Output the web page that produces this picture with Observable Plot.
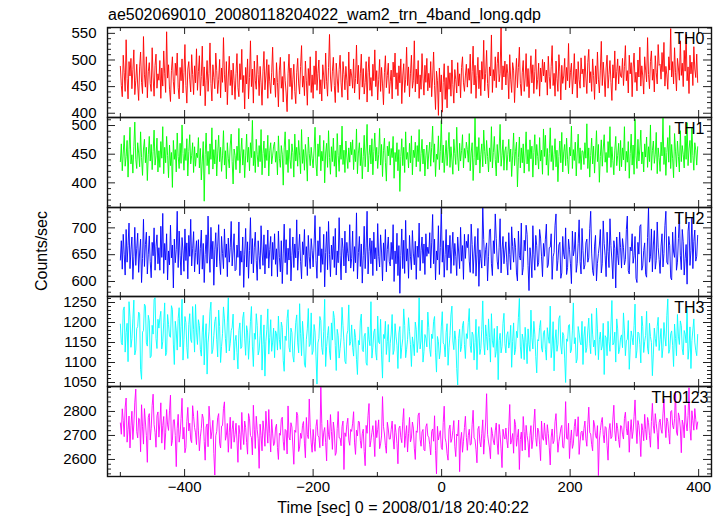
<!DOCTYPE html>
<html><head><meta charset="utf-8">
<script src="https://cdn.jsdelivr.net/npm/d3@7"></script>
<script src="https://cdn.jsdelivr.net/npm/@observablehq/plot@0.6"></script>
<style>
body{margin:0;background:#fff;}
#chart{position:relative;width:724px;height:516px;font-family:"Liberation Sans",Arial,Helvetica,sans-serif;}
</style></head><body><div id="chart"></div>
<script>
// time bins: start and width (sec)
const t0 = -500, dt = 1.5;
const TH0 = [
488,452,431,509,476,441,538,465,427,497,470,503,446,482,519,435,461,492,453,424,487,515,458,437,544,472,449,506,429,478,495,456,441,523,468,432,490,511,447,474,
462,499,428,485,451,517,474,439,553,466,491,445,422,480,506,459,436,494,471,513,448,427,486,461,502,438,476,529,452,419,483,497,464,440,510,473,435,489,457,521,
443,478,508,433,469,526,451,487,414,462,499,441,475,532,456,423,491,467,446,513,480,437,463,501,429,485,458,542,472,440,497,416,468,507,452,481,434,494,461,426,
475,512,448,431,493,463,520,439,471,408,486,455,502,427,467,536,450,483,419,498,462,445,509,473,433,488,457,415,479,516,444,470,501,428,491,459,437,476,524,453,
466,430,495,458,412,481,505,447,469,421,497,462,438,403,474,511,450,485,426,464,492,441,418,477,503,455,436,488,527,449,470,433,498,461,415,484,452,506,439,472,
428,489,454,517,443,475,500,436,463,423,491,470,446,513,459,432,486,548,468,441,479,505,452,420,494,466,439,482,509,457,430,497,473,444,488,462,425,515,451,483,
470,447,502,438,465,528,455,490,426,474,511,449,484,436,458,497,421,476,506,443,467,432,492,461,519,450,480,425,463,501,441,486,455,416,477,508,448,471,494,437,
459,481,427,496,468,513,445,476,433,489,457,502,418,470,493,439,464,524,452,487,431,474,509,447,461,536,440,483,455,499,428,472,445,512,466,434,490,458,503,442,
475,448,497,431,468,515,452,407,479,461,396,485,440,472,402,458,493,426,467,410,489,445,476,432,500,454,419,482,463,438,495,451,474,429,486,506,457,441,470,492,
449,484,462,511,437,478,526,453,490,428,471,505,446,481,433,497,464,537,442,475,518,456,429,487,470,547,439,482,461,506,448,493,515,459,475,565,444,489,468,498,
453,492,474,427,510,464,439,495,481,420,468,503,448,486,524,456,433,477,499,441,466,512,450,484,429,472,508,457,491,437,478,520,445,463,494,432,485,459,501,470,
496,458,481,434,507,469,446,488,527,452,475,432,498,465,441,510,479,425,490,456,470,503,444,486,461,531,448,477,494,436,468,512,455,483,429,497,463,447,504,474,
483,449,508,466,437,495,520,457,478,441,502,471,426,489,455,515,464,438,481,535,452,496,468,431,485,509,447,473,499,458,424,491,466,517,443,478,502,455,489,470,
467,503,452,488,527,461,480,438,509,474,495,431,485,513,458,477,442,500,468,524,451,489,470,436,506,481,459,542,473,446,497,517,462,483,440,508,476,455,529,490,
492,464,514,478,533,451,488,472,445,506,481,559,468,497,455,523,476,442,503,485,462,536,471,494,450,518,479,548,461,487,437,509,474,496,452,525,483,467,511,458];
const TH1 = [
437,468,421,452,483,429,446,474,410,458,497,433,449,417,463,506,441,425,470,452,428,489,444,413,459,476,435,462,404,449,481,438,467,423,455,492,431,447,478,419,
456,427,472,443,498,416,462,435,481,448,409,466,430,453,392,474,441,458,419,487,446,425,469,434,501,451,422,460,439,477,412,455,484,433,448,470,418,463,429,452,
444,479,426,460,405,438,472,368,449,487,430,455,415,468,441,496,424,458,433,475,412,452,483,437,462,420,447,491,431,456,407,470,443,426,466,485,437,398,459,448,
423,464,439,495,417,452,478,431,458,409,447,485,436,462,421,470,444,509,430,455,418,476,449,428,465,437,493,414,451,473,426,460,439,483,412,456,470,433,447,464,
471,436,455,414,482,443,427,465,450,396,461,489,432,457,418,476,441,425,468,453,410,485,438,462,429,474,447,416,493,434,458,422,467,445,403,480,451,430,462,443,
426,459,497,433,412,468,446,483,421,455,438,474,400,452,469,427,491,444,415,463,437,478,429,456,410,486,448,420,466,441,499,432,457,418,473,445,425,461,436,471,
449,475,423,458,437,494,416,452,470,430,461,407,446,483,428,459,502,419,448,466,433,477,414,455,487,438,462,425,450,495,431,467,411,456,478,436,403,464,447,472,
431,460,444,481,408,453,437,470,421,458,385,446,477,430,462,418,489,441,453,426,469,435,482,414,457,444,471,428,465,437,493,420,451,476,433,459,412,447,466,424,
452,471,429,462,499,436,468,411,450,441,482,423,455,509,435,466,418,447,474,430,458,488,427,463,440,415,476,451,432,497,445,421,469,438,456,484,426,460,443,471,
458,436,486,421,452,470,404,444,515,431,463,440,479,417,450,468,428,492,455,433,474,446,419,461,437,498,426,453,481,441,412,467,435,459,502,429,448,475,422,456,
463,422,450,476,437,459,411,447,487,430,455,471,393,444,480,426,461,435,468,417,452,489,433,458,420,475,442,464,410,453,484,431,467,446,424,479,438,457,415,494,
446,483,431,460,413,451,496,437,465,422,449,477,428,457,402,446,473,435,488,419,454,467,430,478,441,416,462,447,499,425,458,439,471,412,452,485,434,461,423,456,
455,432,470,443,503,425,461,410,448,478,433,464,417,452,491,437,467,401,446,475,429,459,484,436,453,418,472,444,498,427,463,439,414,457,481,430,448,469,421,474,
428,461,440,498,421,455,436,472,408,451,485,431,466,415,511,447,425,476,438,459,492,433,454,419,468,445,480,427,463,437,501,422,456,473,434,450,488,416,461,444,
420,471,447,513,432,462,413,453,479,436,500,425,467,442,409,486,454,428,473,446,419,491,437,465,450,426,482,441,505,430,459,474,435,496,448,422,470,457,431,463];
const TH2 = [
640,676,623,688,651,612,697,636,667,709,624,659,683,604,646,701,630,662,690,617,655,679,598,643,716,628,669,692,614,651,685,637,607,673,648,700,621,665,687,633,
663,621,703,645,727,615,671,640,689,603,657,631,705,644,668,588,679,635,660,731,626,694,649,612,682,657,619,698,639,672,605,686,647,716,629,661,693,618,654,676,
632,678,614,662,696,623,671,598,650,687,634,722,655,617,701,642,675,593,659,691,627,666,706,638,613,684,652,624,698,645,670,609,681,636,663,712,629,657,689,620,
622,668,645,711,611,657,636,683,589,651,699,627,674,606,658,719,633,680,616,664,692,639,602,676,648,623,704,655,630,687,614,669,643,696,625,660,684,610,673,641,
689,632,661,609,694,645,618,676,596,653,707,635,678,613,662,640,699,601,649,683,626,670,644,715,621,658,688,637,605,674,650,697,628,665,611,686,646,624,680,658,
627,670,723,639,606,676,648,702,617,661,632,688,590,654,693,622,712,650,609,668,641,684,626,699,612,657,635,719,648,603,681,662,629,694,616,673,652,638,706,625,
643,694,619,665,635,728,605,654,684,628,670,597,648,703,624,664,731,614,656,681,633,676,611,692,642,663,620,708,647,627,687,655,601,672,639,697,618,660,683,637,
629,673,641,706,600,657,633,690,611,667,578,649,698,624,677,615,714,638,661,606,686,646,622,695,653,631,675,604,666,645,709,620,658,683,634,670,613,689,647,664,
652,691,625,672,725,633,679,603,657,640,704,613,663,740,636,676,608,650,697,621,668,644,686,615,659,692,630,671,647,611,683,655,624,701,638,667,604,688,643,675,
663,688,638,617,707,669,615,653,684,610,651,699,591,659,643,625,742,678,629,660,672,601,647,696,698,633,611,676,652,726,680,638,623,664,717,616,659,684,633,657,
674,635,612,691,650,622,702,665,636,681,664,616,601,694,648,640,709,612,626,677,657,705,688,630,583,663,642,607,704,651,621,686,667,628,635,697,681,646,609,671,
647,679,707,626,631,663,664,689,604,646,654,705,726,620,639,668,673,606,616,684,651,642,700,613,626,679,660,633,596,694,648,659,692,617,634,671,715,637,614,699,
658,623,631,672,679,636,644,699,731,653,620,611,666,686,601,634,652,668,697,616,633,713,671,648,609,692,656,626,717,667,640,605,676,662,588,683,649,631,692,663,
625,680,663,631,641,697,722,620,614,664,657,689,634,648,684,606,598,673,651,703,706,621,629,658,672,613,608,682,738,636,646,698,618,668,695,623,639,711,664,641,
615,666,689,627,652,704,731,636,632,684,667,607,603,692,655,645,702,621,636,680,725,648,622,697,674,612,643,669,595,694,711,630,658,720,624,675,696,638,647,686];
const TH3 = [
1196,1150,1144,1231,1239,1126,1175,1198,1102,1252,1214,1138,1160,1209,1256,1119,1131,1185,1190,1226,1221,1082,1058,1176,1180,1246,1241,1149,1141,1218,1204,1112,1116,1193,1171,1257,1262,1160,1135,1208,
1186,1212,1228,1134,1152,1199,1249,1117,1125,1220,1195,1166,1163,1242,1233,1146,1095,1203,1179,1131,1210,1237,1139,1190,1258,1106,1158,1215,1200,1137,1110,1195,1222,1157,1150,1240,1183,1126,1245,1176,
1145,1207,1192,1132,1116,1176,1218,1094,1161,1197,1071,1149,1178,1228,1251,1122,1133,1167,1203,1214,1157,1114,1231,1190,1100,1140,1172,1239,1209,1160,1124,1201,1262,1129,1148,1180,1188,1221,1106,1153,
1168,1125,1084,1180,1199,1135,1139,1211,1226,1161,1118,1192,1176,1108,1154,1203,1240,1141,1090,1173,1158,1222,1193,1119,1130,1167,1219,1081,1145,1194,1066,1153,1182,1234,1121,1162,1207,1128,1151,1186,
1112,1179,1172,1131,1216,1158,1133,1201,1188,1105,1078,1166,1155,1210,1232,1138,1126,1186,1175,1116,1101,1156,1200,1219,1149,1124,1247,1172,1117,1203,1166,1096,1088,1158,1184,1235,1140,1146,1224,1120,
1129,1195,1176,1114,1046,1149,1160,1215,1205,1137,1120,1178,1258,1090,1140,1168,1190,1129,1107,1199,1156,1228,1212,1142,1080,1183,1167,1111,1135,1162,1238,1192,1153,1103,1097,1170,1180,1244,1143,1152,
1194,1138,1116,1183,1163,1108,1070,1155,1144,1204,1221,1133,1127,1166,1173,1099,1093,1189,1158,1142,1252,1111,1138,1176,1184,1124,1106,1216,1151,1147,1208,1119,1061,1170,1160,1203,1120,1153,1195,1101,
1148,1171,1220,1120,1131,1197,1166,1143,1085,1174,1190,1110,1138,1159,1234,1193,1112,1133,1158,1212,1178,1145,1090,1164,1147,1117,1201,1183,1125,1156,1262,1134,1154,1206,1101,1127,1170,1161,1139,1226,
1187,1133,1115,1171,1160,1203,1215,1124,1076,1165,1152,1109,1129,1189,1227,1149,1145,1114,1175,1197,1093,1138,1167,1219,1241,1154,1132,1179,1156,1085,1044,1160,1183,1127,1140,1192,1203,1145,1110,1172,
1160,1200,1235,1142,1125,1176,1169,1106,1150,1208,1082,1159,1190,1120,1135,1182,1254,1151,1119,1194,1165,1131,1209,1163,1101,1222,1154,1138,1185,1113,1128,1191,1057,1155,1173,1124,1140,1198,1223,1147,
1124,1169,1177,1136,1151,1193,1088,1153,1199,1119,1132,1178,1162,1213,1260,1141,1110,1171,1157,1107,1188,1150,1097,1184,1145,1128,1231,1162,1134,1203,1171,1115,1074,1157,1154,1188,1205,1136,1126,1175,
1180,1133,1106,1187,1164,1148,1241,1112,1139,1202,1079,1156,1182,1128,1146,1210,1217,1141,1121,1175,1168,1111,1050,1159,1153,1193,1195,1124,1131,1179,1249,1147,1162,1099,1109,1190,1174,1151,1144,1203,
1095,1166,1190,1125,1137,1181,1211,1148,1122,1222,1171,1139,1156,1118,1236,1184,1107,1157,1176,1131,1141,1198,1070,1167,1162,1117,1203,1153,1128,1191,1255,1144,1149,1176,1101,1209,1184,1122,1133,1162,
1169,1137,1224,1181,1117,1154,1158,1205,1083,1132,1179,1163,1144,1192,1246,1111,1130,1176,1173,1145,1099,1216,1190,1125,1152,1168,1228,1136,1121,1198,1165,1150,1067,1121,1186,1160,1140,1190,1213,1130,
1157,1185,1112,1138,1200,1164,1141,1217,1259,1123,1133,1172,1179,1143,1090,1196,1160,1117,1220,1166,1145,1204,1192,1134,1119,1180,1171,1149,1238,1108,1136,1189,1085,1155,1181,1209,1151,1130,1117,1170];
const TH0123 = [
2752,2705,2811,2762,2695,2818,2856,2672,2725,2781,2648,2740,2801,2683,2748,2839,2893,2716,2690,2772,2768,2632,2828,2736,2664,2812,2756,2699,2588,2776,2791,2681,2730,2825,2872,2745,2713,2651,2782,2798,
2693,2752,2836,2668,2741,2779,2641,2711,2808,2744,2721,2803,2868,2657,2679,2764,2766,2700,2570,2730,2788,2672,2704,2771,2855,2685,2734,2628,2650,2759,2817,2719,2751,2682,2670,2824,2779,2733,2711,2662,
2803,2719,2636,2694,2729,2789,2772,2675,2597,2735,2748,2653,2822,2757,2686,2718,2763,2625,2535,2699,2717,2774,2791,2668,2648,2739,2741,2812,2840,2680,2701,2750,2630,2711,2776,2645,2724,2761,2672,2704,
2751,2680,2588,2742,2705,2641,2796,2714,2662,2760,2733,2671,2622,2791,2770,2700,2692,2619,2826,2726,2646,2780,2724,2686,2563,2747,2699,2636,2761,2718,2655,2801,2731,2668,2808,2707,2631,2767,2710,2658,
2667,2731,2747,2650,2600,2709,2701,2766,2776,2676,2638,2725,2720,2623,2823,2693,2681,2753,2735,2656,2580,2722,2713,2797,2784,2633,2652,2709,2688,2742,2758,2668,2607,2775,2704,2687,2852,2734,2669,2630,
2725,2675,2634,2737,2766,2699,2693,2649,2905,2749,2656,2714,2733,2671,2594,2764,2703,2683,2787,2717,2642,2756,2719,2617,2628,2729,2800,2690,2689,2657,2737,2760,2558,2711,2696,2746,2772,2680,2659,2725,
2717,2751,2799,2669,2621,2722,2698,2760,2756,2678,2647,2707,2726,2633,2574,2742,2709,2784,2833,2652,2679,2712,2741,2692,2612,2762,2691,2724,2765,2645,2665,2698,2862,2738,2706,2659,2626,2755,2727,2685,
2685,2724,2760,2686,2643,2746,2712,2667,2582,2730,2739,2691,2670,2757,2812,2650,2701,2741,2631,2707,2775,2673,2689,2756,2731,2647,2600,2719,2713,2785,2794,2684,2655,2715,2725,2640,2636,2736,2749,2698,
2693,2661,2619,2717,2727,2676,2782,2638,2540,2738,2681,2703,2720,2650,2641,2754,2822,2689,2670,2624,2597,2726,2743,2671,2686,2720,2762,2655,2612,2706,2698,2764,2549,2681,2713,2630,2676,2733,2780,2692,
2638,2700,2726,2660,2663,2745,2805,2690,2682,2641,2586,2727,2738,2674,2652,2709,2765,2622,2688,2756,2874,2705,2673,2648,2603,2733,2709,2677,2661,2719,2752,2668,2621,2746,2703,2644,2566,2726,2696,2685,
2731,2679,2648,2736,2829,2664,2680,2708,2626,2767,2746,2655,2692,2726,2558,2683,2714,2636,2779,2716,2639,2742,2700,2672,2609,2699,2741,2645,2682,2751,2810,2691,2655,2731,2719,2661,2595,2760,2690,2680,
2752,2697,2661,2745,2708,2651,2577,2693,2727,2666,2678,2757,2791,2704,2630,2675,2698,2730,2742,2652,2647,2710,2841,2688,2684,2751,2604,2678,2723,2646,2665,2737,2768,2698,2697,2778,2621,2673,2713,2718,
2680,2729,2760,2686,2655,2747,2818,2712,2706,2662,2636,2763,2744,2699,2688,2741,2533,2681,2720,2755,2775,2704,2669,2737,2732,2657,2597,2722,2750,2687,2694,2768,2826,2719,2677,2752,2728,2683,2650,2741,
2739,2705,2685,2771,2797,2730,2702,2759,2630,2714,2766,2687,2718,2779,2848,2735,2666,2762,2742,2693,2612,2749,2721,2678,2788,2724,2682,2775,2754,2700,2651,2758,2834,2740,2709,2791,2750,2712,2643,2753,
2768,2726,2709,2790,2852,2748,2691,2773,2758,2708,2664,2799,2804,2742,2727,2770,2885,2714,2700,2794,2776,2731,2628,2764,2745,2690,2826,2752,2719,2783,2899,2730,2680,2803,2762,2722,2812,2767,2725,2756];

const seriesNames = ["TH0","TH1","TH2","TH3","TH0123"];
const seriesValues = [TH0, TH1, TH2, TH3, TH0123];
const yDomains = [[392,561],[357,514],[572,738],[1040,1265],[2529,2904]];
const yMajorTicks = [[400,450,500,550],[400,450,500],[600,650,700],[1050,1100,1150,1200,1250],[2600,2700,2800]];
const yMinorStep = [10,10,10,10,20];
const xMajorTicks = [-400,-200,0,200,400];
const xMinorTicks = [-500,-300,-100,100,300];
const titleText = "ae502069010_20080118204022_wam2_trn_4band_long.qdp";
const yLabelText = "Counts/sec";
const xLabelText = "Time [sec] 0 = 2008/01/18 20:40:22";

// ---- layout / style ----
const colors = ["#ff0000","#00ff00","#0000ff","#00ffff","#ff00ff"];
const W = 724, ML = 107, MR = 13;
const tops = [27,117,207,296,386], bottom = 476;
const font = '"Liberation Sans",Arial,Helvetica,sans-serif';
const plotW = W - ML - MR;
const labelDx = [-7,-7,-7,-7,-3];

const chart = document.getElementById("chart");

// overlay text svg
const svg = d3.select(chart).append("svg")
  .attr("width", W).attr("height", 516)
  .style("position","absolute").style("left","0").style("top","0")
  .style("font-family", font).style("font-size","16px");
svg.append("text").attr("x",108).attr("y",20).attr("fill","#000").text(titleText);
svg.append("text").attr("transform","translate(47,251) rotate(-90)").attr("text-anchor","middle").attr("fill","#000").text(yLabelText);
svg.append("text").attr("x",403).attr("y",513).attr("text-anchor","middle").attr("fill","#000").text(xLabelText);

seriesNames.forEach((name, k) => {
  const vals = seriesValues[k];
  const data = vals.map((v, i) => ({t: t0 + i * dt, v}));
  const top = tops[k];
  const h = (k < 4 ? tops[k+1] : bottom) - top;
  const last = k === 4;
  const [d0, d1] = yDomains[k];
  const step = yMinorStep[k];
  const major = yMajorTicks[k];
  const minor = d3.range(Math.ceil(d0/step)*step, d1, step).filter(v => !major.includes(v));
  const marks = [
    Plot.line(data, {x: "t", y: "v", stroke: colors[k], strokeWidth: 0.9, clip: true}),
    // inward y ticks (left and right)
    Plot.tickY(major, {y: d => d, stroke: "#222", insetRight: plotW - 8}),
    Plot.tickY(minor, {y: d => d, stroke: "#222", insetRight: plotW - 4}),
    Plot.tickY(major, {y: d => d, stroke: "#222", insetLeft: plotW - 8}),
    Plot.tickY(minor, {y: d => d, stroke: "#222", insetLeft: plotW - 4}),
    // inward x ticks (top and bottom)
    Plot.tickX(xMajorTicks, {x: d => d, stroke: "#222", insetBottom: h - 7}),
    Plot.tickX(xMinorTicks, {x: d => d, stroke: "#222", insetBottom: h - 4}),
    Plot.tickX(xMajorTicks, {x: d => d, stroke: "#222", insetTop: h - 7}),
    Plot.tickX(xMinorTicks, {x: d => d, stroke: "#222", insetTop: h - 4}),
    Plot.axisY(major, {anchor: "left", label: null, tickSize: 0, tickPadding: 11, tickFormat: "d", fontSize: 15, fill: "#000"}),
    Plot.text([name], {frameAnchor: "top-right", text: d => d, dx: labelDx[k], dy: 5, fontSize: 16, fill: "#000"}),
    Plot.frame({stroke: "#111", strokeWidth: 1.4})
  ];
  if (last) marks.push(Plot.axisX(xMajorTicks, {anchor: "bottom", label: null, tickSize: 0, tickPadding: 5, tickFormat: "d", fontSize: 15, fill: "#000"}));
  const p = Plot.plot({
    width: W,
    height: h + (last ? 24 : 0),
    marginLeft: ML, marginRight: MR, marginTop: 0, marginBottom: last ? 24 : 0,
    x: {domain: [-520, 420], axis: null},
    y: {domain: [d0, d1], axis: null},
    style: {fontFamily: font, fontSize: "16px", background: "transparent", overflow: "visible", position: "absolute", left: "0px", top: top + "px"},
    marks
  });
  chart.appendChild(p);
});
</script>
</body></html>
